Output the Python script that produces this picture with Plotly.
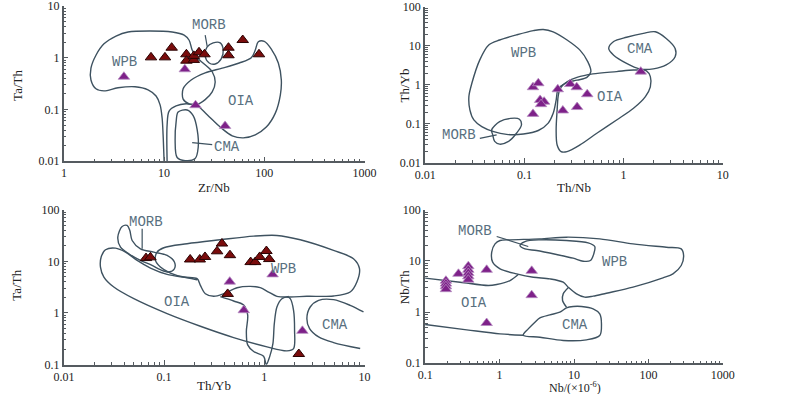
import plotly.graph_objects as go

# ---------------- marker data ----------------
# Panel 1: Zr/Nb vs Ta/Th
p1_red_x = [7.4, 10.2, 11.9, 16.7, 16.7, 19.8, 19.8, 22.3, 25.3, 43.9, 43.9, 60.9, 88.5]
p1_red_y = [1.02, 1.02, 1.57, 1.17, 0.88, 0.91, 1.09, 1.28, 1.17, 1.57, 1.12, 2.21, 1.17]
p1_pur_x = [3.97, 16.1, 20.6, 40.6]
p1_pur_y = [0.43, 0.60, 0.121, 0.048]

# Panel 2: Th/Nb vs Th/Yb
p2_pur_x = [0.122, 0.138, 0.144, 0.158, 0.147, 0.122, 0.217, 0.29, 0.337, 0.244, 0.34, 0.43, 1.49]
p2_pur_y = [0.87, 1.10, 0.41, 0.37, 0.32, 0.18, 0.77, 1.05, 0.87, 0.22, 0.27, 0.575, 2.18]

# Panel 3: Th/Yb vs Ta/Th
p3_red_x = [0.066, 0.073, 0.182, 0.227, 0.256, 0.338, 0.378, 0.454, 0.731, 0.811, 0.90, 1.05, 1.12, 0.431, 2.21]
p3_red_y = [11.6, 12.0, 10.9, 10.9, 12.2, 15.7, 22.2, 13.2, 9.7, 9.7, 12.2, 15.9, 11.1, 2.34, 0.16]
p3_pur_x = [0.452, 1.21, 0.624, 2.40]
p3_pur_y = [4.05, 5.6, 1.13, 0.45]

# Panel 4: Nb vs Nb/Th
p4_pur_x = [0.19, 0.19, 0.19, 0.19, 0.28, 0.38, 0.38, 0.38, 0.38, 0.38, 0.67, 0.67, 2.7, 2.7]
p4_pur_y = [4.1, 3.6, 3.2, 2.8, 5.6, 7.9, 6.7, 5.8, 5.0, 4.3, 6.7, 0.61, 6.4, 2.14]

# ---------------- field boundaries (log10 units) ----------------
p1_wpb_lx = [1.00, 0.99, 0.98, 0.96, 0.92, 0.84, 0.71, 0.54, 0.40, 0.32, 0.27, 0.27, 0.32, 0.40, 0.52, 0.64, 0.86, 1.08,
             1.20, 1.25, 1.28, 1.32, 1.40, 1.48, 1.51, 1.48, 1.41, 1.32, 1.22, 1.12, 1.05, 1.03, 1.03]
p1_wpb_ly = [-2.0, -1.49, -1.16, -0.91, -0.74, -0.62, -0.56, -0.58, -0.64, -0.60, -0.43, -0.20, 0.05, 0.27, 0.42, 0.50,
             0.52, 0.50, 0.44, 0.34, 0.15, 0.02, -0.12, -0.27, -0.47, -0.66, -0.81, -0.91, -0.89, -0.93, -1.03, -1.30, -2.0]
p1_oia_lx = [1.32, 1.43, 1.56, 1.68, 1.79, 1.91, 2.02, 2.11, 2.16, 2.17, 2.14, 2.07, 2.00, 1.94, 1.91, 1.87, 1.75, 1.58,
             1.41, 1.27, 1.19, 1.19, 1.25, 1.32]
p1_oia_ly = [-0.91, -1.10, -1.34, -1.51, -1.55, -1.49, -1.34, -1.07, -0.72, -0.43, -0.10, 0.17, 0.32, 0.31, 0.15, 0.00,
             -0.10, -0.20, -0.29, -0.43, -0.60, -0.80, -0.89, -0.91]
p1_morb_lx = [1.43, 1.49, 1.56, 1.59, 1.57, 1.51, 1.45, 1.41, 1.43]
p1_morb_ly = [0.21, 0.29, 0.29, 0.15, -0.02, -0.12, -0.10, 0.03, 0.21]
p1_morb_lead_lx = [1.41, 1.43]
p1_morb_lead_ly = [0.44, 0.22]
p1_cma_lx = [1.14, 1.23, 1.29, 1.33, 1.34, 1.31, 1.21, 1.13, 1.11, 1.12, 1.14]
p1_cma_ly = [-1.05, -1.01, -1.12, -1.39, -1.74, -1.95, -1.99, -1.93, -1.59, -1.24, -1.05]
p1_cma_lead_lx = [1.28, 1.48]
p1_cma_lead_ly = [-1.64, -1.68]

p2_wpb_lx = [-1.55, -1.56, -1.53, -1.45, -1.36, -1.25, -1.08, -0.91, -0.81, -0.71, -0.57, -0.44, -0.36, -0.33, -0.37,
             -0.47, -0.59, -0.66, -0.68, -0.71, -0.76, -0.86, -1.01, -1.18, -1.31, -1.43, -1.51, -1.55]
p2_wpb_ly = [-0.64, -0.30, 0.04, 0.64, 1.02, 1.15, 1.28, 1.39, 1.42, 1.36, 1.15, 0.89, 0.59, 0.34, 0.19, 0.12, 0.04,
             -0.11, -0.39, -0.73, -0.98, -1.17, -1.26, -1.27, -1.20, -1.07, -0.90, -0.64]
p2_oia_lx = [-0.64, -0.57, -0.47, -0.31, -0.07, 0.10, 0.23, 0.27, 0.27, 0.22, 0.10, -0.07, -0.27, -0.44, -0.57, -0.63,
             -0.67, -0.68, -0.67, -0.66, -0.64]
p2_oia_ly = [-0.09, 0.08, 0.19, 0.28, 0.34, 0.38, 0.36, 0.21, -0.05, -0.30, -0.60, -0.90, -1.24, -1.54, -1.71, -1.71,
             -1.54, -1.15, -0.64, -0.30, -0.09]
p2_cma_lx = [-0.15, -0.10, 0.03, 0.20, 0.32, 0.43, 0.52, 0.52, 0.43, 0.30, 0.16, 0.03, -0.10, -0.15]
p2_cma_ly = [0.93, 1.11, 1.22, 1.32, 1.36, 1.19, 0.93, 0.72, 0.51, 0.41, 0.41, 0.55, 0.76, 0.93]
p2_morb_lx = [-1.33, -1.25, -1.14, -1.05, -1.03, -1.08, -1.16, -1.25, -1.30, -1.32, -1.33]
p2_morb_ly = [-1.15, -0.94, -0.86, -0.88, -1.03, -1.24, -1.45, -1.52, -1.45, -1.28, -1.15]
p2_morb_lead_lx = [-1.45, -1.28]
p2_morb_lead_ly = [-1.37, -1.28]

p3_wpb_lx = [-1.070, -1.003, -0.771, -0.439, -0.106, 0.126, 0.359, 0.691, 0.890, 0.950, 0.924, 0.857, 0.691, 0.425,
             0.259, 0.126, 0.043, -0.040, -0.140, -0.272, -0.405, -0.505, -0.588, -0.638, -0.671, -0.804, -0.937,
             -1.037, -1.086, -1.070]
p3_wpb_ly = [1.181, 1.265, 1.342, 1.419, 1.490, 1.503, 1.419, 1.213, 1.052, 0.858, 0.600, 0.406, 0.329, 0.323, 0.310,
             0.323, 0.406, 0.490, 0.516, 0.490, 0.374, 0.323, 0.374, 0.535, 0.665, 0.697, 0.774, 0.890, 1.019, 1.181]
p3_morb_lx = [-1.419, -1.369, -1.342, -1.319, -1.236, -1.103, -0.970, -0.897, -0.897, -0.953, -1.037, -1.120, -1.236,
              -1.352, -1.435, -1.462, -1.419]
p3_morb_ly = [1.677, 1.697, 1.600, 1.406, 1.245, 1.181, 1.116, 0.987, 0.858, 0.794, 0.839, 0.923, 1.019, 1.148, 1.277,
              1.471, 1.677]
p3_morb_lead_lx = [-1.219, -1.219]
p3_morb_lead_ly = [1.632, 1.245]
p3_oia_lx = [-0.671, -0.771, -0.970, -1.136, -1.269, -1.385, -1.485, -1.585, -1.628, -1.635, -1.601, -1.502, -1.302,
             -0.970, -0.638, -0.306, 0.027, 0.226, 0.292, 0.302, 0.292, 0.259, 0.226]
p3_oia_ly = [0.645, 0.684, 0.748, 0.871, 1.019, 1.181, 1.258, 1.226, 1.084, 0.890, 0.697, 0.503, 0.277, -0.013, -0.258,
             -0.477, -0.658, -0.735, -0.690, -0.335, 0.052, 0.277, 0.316]
p3_tail_lx = [-0.439, -0.306, -0.206, -0.166, -0.179, -0.166, -0.106, -0.007, 0.020, 0.053, 0.086, 0.100, 0.126, 0.176,
              0.243]
p3_tail_ly = [0.316, 0.232, 0.155, -0.039, -0.361, -0.619, -0.748, -0.839, -1.0, -0.852, -0.594, -0.206, 0.116, 0.277,
              0.323]
p3_cma_lx = [0.990, 0.857, 0.691, 0.542, 0.458, 0.425, 0.452, 0.542, 0.691, 0.957]
p3_cma_ly = [0.019, 0.148, 0.258, 0.245, 0.116, -0.110, -0.303, -0.465, -0.574, -0.690]

p4_wpb_lx = [0.006, 0.140, 0.542, 0.899, 1.346, 1.793, 2.240, 2.441, 2.473, 2.441, 2.330, 2.196, 1.793, 1.436, 1.257,
             1.145, 1.034, 0.922, 0.855, 0.676, 0.453, 0.229, 0.006, -0.093, -0.106, -0.061, 0.006]
p4_wpb_ly = [1.400, 1.413, 1.432, 1.465, 1.432, 1.335, 1.269, 1.237, 1.106, 0.911, 0.748, 0.669, 0.487, 0.369, 0.311,
             0.291, 0.356, 0.487, 0.584, 0.650, 0.682, 0.748, 0.845, 0.976, 1.172, 1.335, 1.400]
p4_morb_lx = [0.274, 0.341, 0.542, 0.899, 1.190, 1.279, 1.266, 1.221, 1.123, 0.989, 0.765, 0.497, 0.341, 0.274]
p4_morb_ly = [1.302, 1.380, 1.413, 1.400, 1.354, 1.282, 1.139, 1.008, 0.995, 1.054, 1.126, 1.204, 1.237, 1.302]
p4_morb_lead_lx = [-0.039, 0.385]
p4_morb_lead_ly = [1.478, 1.282]
p4_oia_top_lx = [-1.000, -0.531, -0.151, -0.039, 0.140, 0.251]
p4_oia_top_ly = [0.663, 0.584, 0.519, 0.539, 0.617, 0.735]
p4_oia_bot_lx = [-1.0, -0.441, 0.006, 0.318]
p4_oia_bot_ly = [-0.244, -0.348, -0.427, -0.453]
p4_cma_lx = [0.318, 0.385, 0.475, 0.542, 0.676, 0.810, 0.899, 0.989, 1.101, 1.257, 1.346, 1.369, 1.346, 1.168, 0.855,
             0.542, 0.318]
p4_cma_ly = [-0.453, -0.329, -0.198, -0.113, -0.055, -0.003, 0.082, 0.108, 0.108, 0.063, -0.035, -0.231, -0.459,
             -0.544, -0.557, -0.492, -0.453]
p4_link_lx = [0.922, 0.855, 0.846, 0.899]
p4_link_ly = [0.474, 0.356, 0.226, 0.095]

# field labels: (panel, text, log x, log y)
field_labels = [
    (1, "WPB", 0.60, -0.08), (1, "MORB", 1.45, 0.63), (1, "OIA", 1.77, -0.83), (1, "CMA", 1.63, -1.72),
    (2, "WPB", -1.01, 0.81), (2, "CMA", 0.17, 0.91), (2, "OIA", -0.14, -0.32), (2, "MORB", -1.66, -1.28),
    (3, "MORB", -1.18, 1.76), (3, "OIA", -0.87, 0.21), (3, "WPB", 0.19, 0.86), (3, "CMA", 0.71, -0.23),
    (4, "MORB", -0.33, 1.58), (4, "WPB", 1.55, 0.98), (4, "OIA", -0.35, 0.17), (4, "CMA", 1.02, -0.25),
]

LINE_C = "#3e5260"
LABEL_C = "#587080"
RED = "#7a0c0c"
PURPLE = "#7e2189"

fig = go.Figure()


def axref(p):
    return ("x", "y") if p == 1 else ("x%d" % p, "y%d" % p)


def field(p, lx, ly, smooth=0.9):
    xa, ya = axref(p)
    fig.add_trace(go.Scatter(x=[10 ** v for v in lx], y=[10 ** v for v in ly], mode="lines",
                             line=dict(color=LINE_C, width=1.4, shape="spline", smoothing=smooth),
                             hoverinfo="skip", showlegend=False, xaxis=xa, yaxis=ya))


def straight(p, lx, ly):
    xa, ya = axref(p)
    fig.add_trace(go.Scatter(x=[10 ** v for v in lx], y=[10 ** v for v in ly], mode="lines",
                             line=dict(color=LINE_C, width=1.2), hoverinfo="skip", showlegend=False,
                             xaxis=xa, yaxis=ya))


def pts(p, xs, ys, color, edge, ew):
    xa, ya = axref(p)
    fig.add_trace(go.Scatter(x=xs, y=ys, mode="markers",
                             marker=dict(symbol="triangle-up", size=10, color=color, line=dict(color=edge, width=ew)),
                             showlegend=False, xaxis=xa, yaxis=ya))


field(1, p1_wpb_lx, p1_wpb_ly)
field(1, p1_oia_lx, p1_oia_ly)
field(1, p1_morb_lx, p1_morb_ly)
field(1, p1_cma_lx, p1_cma_ly)
straight(1, p1_morb_lead_lx, p1_morb_lead_ly)
straight(1, p1_cma_lead_lx, p1_cma_lead_ly)

field(2, p2_wpb_lx, p2_wpb_ly)
field(2, p2_oia_lx, p2_oia_ly)
field(2, p2_cma_lx, p2_cma_ly)
field(2, p2_morb_lx, p2_morb_ly)
straight(2, p2_morb_lead_lx, p2_morb_lead_ly)

field(3, p3_wpb_lx, p3_wpb_ly)
field(3, p3_morb_lx, p3_morb_ly)
field(3, p3_oia_lx, p3_oia_ly)
field(3, p3_tail_lx, p3_tail_ly)
field(3, p3_cma_lx, p3_cma_ly)
straight(3, p3_morb_lead_lx, p3_morb_lead_ly)

field(4, p4_wpb_lx, p4_wpb_ly)
field(4, p4_morb_lx, p4_morb_ly)
field(4, p4_oia_top_lx, p4_oia_top_ly)
field(4, p4_oia_bot_lx, p4_oia_bot_ly)
field(4, p4_cma_lx, p4_cma_ly)
field(4, p4_link_lx, p4_link_ly)
straight(4, p4_morb_lead_lx, p4_morb_lead_ly)

pts(1, p1_red_x, p1_red_y, RED, "#2a0303", 1)
pts(1, p1_pur_x, p1_pur_y, PURPLE, "#b58cc0", 0.8)
pts(2, p2_pur_x, p2_pur_y, PURPLE, "#b58cc0", 0.8)
pts(3, p3_red_x, p3_red_y, RED, "#2a0303", 1)
pts(3, p3_pur_x, p3_pur_y, PURPLE, "#b58cc0", 0.8)
pts(4, p4_pur_x, p4_pur_y, PURPLE, "#b58cc0", 0.8)


def fmt(d):
    return "%g" % (10 ** d)


def axis(domain, d0, d1, anchor):
    decades = list(range(d0, d1 + 1))
    minor = [k * 10 ** d for d in range(d0, d1) for k in range(2, 10)]
    return dict(type="log", domain=domain, range=[d0 - 0.003, d1 + 0.003], anchor=anchor,
                showline=True, linecolor="#555b60", linewidth=1.5, mirror=False,
                ticks="inside", ticklen=5, tickwidth=1, tickcolor="#555b60",
                tickvals=[10 ** d for d in decades], ticktext=[fmt(d) for d in decades],
                ticklabeloverflow="allow",
                minor=dict(tickvals=minor, ticks="inside", ticklen=3, tickwidth=1, tickcolor="#555b60"),
                showgrid=False, zeroline=False, automargin=False,
                tickfont=dict(family="Liberation Serif", size=12, color="#222"))


xd_l = [0.0795, 0.4560]
xd_r = [0.5312, 0.9038]

layout = dict(
    width=800, height=394, autosize=False, margin=dict(l=0, r=0, t=0, b=0, pad=0),
    paper_bgcolor="white", plot_bgcolor="white", showlegend=False,
    xaxis=axis(xd_l, 0, 3, "y"), yaxis=axis([0.5906, 0.9848], -2, 1, "x"),
    xaxis2=axis(xd_r, -2, 1, "y2"), yaxis2=axis([0.5863, 0.9830], -2, 2, "x2"),
    xaxis3=axis(xd_l, -2, 1, "y3"), yaxis3=axis([0.0744, 0.4678], -1, 2, "x3"),
    xaxis4=axis(xd_r, -1, 3, "y4"), yaxis4=axis([0.0779, 0.4678], -1, 2, "x4"),
)
fig.update_layout(**layout)

ann = []
for p, t, lx, ly in field_labels:
    xa, ya = axref(p)
    ann.append(dict(x=lx, y=ly, xref=xa, yref=ya, text=t, showarrow=False, xanchor="center", yanchor="middle",
                    font=dict(family="Liberation Mono", size=14, color=LABEL_C)))

axis_titles = [
    ("Zr/Nb", 0.2675, 0.525, 0, 13), ("Ta/Th", 0.021, 0.784, -90, 13),
    ("Th/Nb", 0.7175, 0.525, 0, 13), ("Th/Yb", 0.5055, 0.784, -90, 13),
    ("Th/Yb", 0.2675, 0.022, 0, 13), ("Ta/Th", 0.021, 0.277, -90, 13),
    ("Nb/(×10<sup>-6</sup>)", 0.719, 0.0175, 0, 12), ("Nb/Th", 0.5055, 0.272, -90, 13),
]
for t, x, y, a, s in axis_titles:
    ann.append(dict(x=x, y=y, xref="paper", yref="paper", text=t, showarrow=False, textangle=a,
                    xanchor="center", yanchor="middle",
                    font=dict(family="Liberation Serif", size=s, color="#222")))
fig.update_layout(annotations=ann)

fig.write_html("out.html", config={"displayModeBar": False},
               post_script="document.body.style.margin='0';document.body.style.overflow='hidden';")
